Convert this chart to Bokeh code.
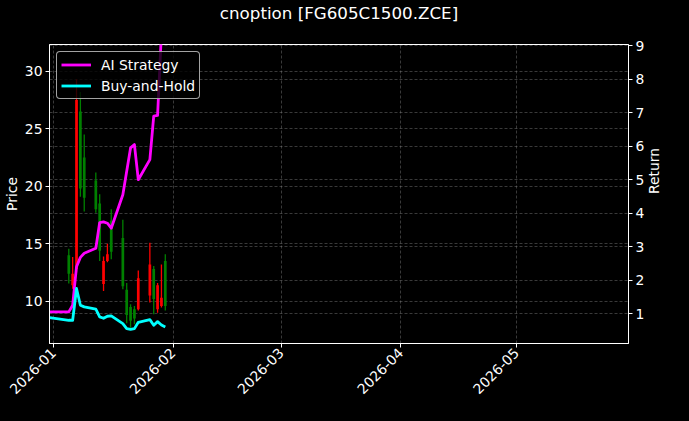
import math
import pandas as pd
from bokeh.plotting import figure
from bokeh.models import (Range1d, LinearAxis, FixedTicker, SingleIntervalTicker, Title,
                          DatetimeTickFormatter, Grid, Legend, LegendItem, ColumnDataSource)
from bokeh.embed import file_html
from bokeh.resources import INLINE

# ---------------- data ----------------
title_text = "cnoption [FG605C1500.ZCE]"

candle_dates = ["2026-01-05", "2026-01-06", "2026-01-07", "2026-01-08", "2026-01-09",
                "2026-01-12", "2026-01-13", "2026-01-14", "2026-01-15", "2026-01-16",
                "2026-01-19", "2026-01-20", "2026-01-21", "2026-01-22", "2026-01-23",
                "2026-01-26", "2026-01-27", "2026-01-28", "2026-01-29", "2026-01-30"]
opens = [14.0, 11.4, 12.8, 26.5, 22.5, 20.5, 18.5, 11.5, 13.5, 17.0,
         15.5, 11.0, 9.5, 9.3, 9.3, 10.5, 12.8, 9.3, 9.6, 13.5]
highs = [14.57, 13.85, 29.3, 28.2, 24.5, 21.2, 19.3, 13.9, 15.0, 18.0,
         17.1, 11.6, 9.74, 9.6, 12.67, 15.1, 13.07, 11.6, 13.2, 14.1]
lows = [11.54, 11.1, 12.5, 19.1, 17.8, 17.7, 13.5, 10.9, 13.4, 13.65,
        11.05, 8.1, 7.7, 8.0, 9.2, 9.9, 8.87, 9.0, 9.45, 9.2]
closes = [12.4, 12.4, 27.5, 19.8, 19.0, 18.0, 14.4, 13.5, 14.1, 14.3,
          11.3, 8.8, 8.3, 8.5, 12.0, 13.2, 10.2, 11.4, 10.3, 9.6]

line_dates = ["2025-12-31"] + candle_dates
ai_strategy = [1.05, 1.05, 1.25, 2.40, 2.68, 2.80, 2.95, 3.72, 3.74, 3.70, 3.55,
               4.55, 5.25, 5.95, 6.05, 5.00, 5.60, 6.90, 6.92, 9.40, 10.20]
buy_hold = [0.88, 0.80, 0.80, 1.75, 1.25, 1.20, 1.13, 0.90, 0.86, 0.92, 0.93,
            0.70, 0.55, 0.53, 0.55, 0.74, 0.82, 0.65, 0.76, 0.66, 0.60]

month_ticks = ["2026-01-01", "2026-02-01", "2026-03-01", "2026-04-01", "2026-05-01"]
x_start, x_end = "2025-12-31", "2026-05-30"
price_range = (6.33, 32.33)
return_range = (0.106, 9.04)

# ---------------- figure ----------------
FONT = "DejaVu Sans"
DAY_MS = 86400000

p = figure(width=673, height=405, x_axis_type="datetime", title=None,
           output_backend="svg", toolbar_location=None,
           x_range=Range1d(pd.Timestamp(x_start), pd.Timestamp(x_end)),
           y_range=Range1d(*price_range),
           min_border_left=49, min_border_right=39, min_border_top=44, min_border_bottom=62,
           background_fill_color="black", border_fill_color="black")
p.outline_line_color = "white"
p.outline_line_width = 1

# spacer between frame and title, then the title itself (farther from the frame)
p.add_layout(Title(text=" ", text_font_size="12px", text_font=FONT, standoff=6), "above")
p.add_layout(Title(text=title_text, align="center", text_color="white", text_font=FONT,
                   text_font_size="16.7px", text_font_style="normal", standoff=0), "above")

p.extra_y_ranges = {"ret": Range1d(*return_range)}

# candles
cd = pd.to_datetime(candle_dates)
colors = ["#ff0000" if c >= o else "#008000" for o, c in zip(opens, closes)]
src = ColumnDataSource(dict(
    x=cd, o=opens, h=highs, l=lows, c=closes,
    top=[max(o, c) for o, c in zip(opens, closes)],
    bottom=[min(o, c) for o, c in zip(opens, closes)],
    color=colors))
p.segment(x0="x", y0="l", x1="x", y1="h", line_color="color", line_width=1.3, source=src)
p.vbar(x="x", width=0.7 * DAY_MS, top="top", bottom="bottom",
       fill_color="color", line_color=None, source=src)

# return lines
ld = pd.to_datetime(line_dates)
r_ai = p.line(ld, ai_strategy, line_color="#ff00ff", line_width=2.8,
              line_join="round", y_range_name="ret")
r_bh = p.line(ld, buy_hold, line_color="#00ffff", line_width=2.8,
              line_join="round", y_range_name="ret")

# axes
laxis = p.yaxis[0]
laxis.ticker = SingleIntervalTicker(interval=5)
laxis.axis_label = "Price"
raxis = LinearAxis(y_range_name="ret", ticker=SingleIntervalTicker(interval=1),
                   axis_label="Return")
p.add_layout(raxis, "right")
xaxis = p.xaxis[0]
month_ms = [pd.Timestamp(t).value // 10**6 for t in month_ticks]
xaxis.ticker = FixedTicker(ticks=month_ms)
fmt = "%Y-%m"
xaxis.formatter = DatetimeTickFormatter(
    microseconds=fmt, milliseconds=fmt, seconds=fmt, minsec=fmt, minutes=fmt,
    hourmin=fmt, hours=fmt, days=fmt, months=fmt, years=fmt)
xaxis.major_label_orientation = math.pi / 4

for ax in (xaxis, laxis, raxis):
    ax.axis_line_color = "white"
    ax.major_tick_line_color = "white"
    ax.minor_tick_line_color = None
    ax.major_tick_out = 4
    ax.major_tick_in = 0
    ax.major_label_standoff = 3
    ax.major_label_text_color = "white"
    ax.major_label_text_font = FONT
    ax.major_label_text_font_size = "13.9px"
    ax.axis_label_text_color = "white"
    ax.axis_label_text_font = FONT
    ax.axis_label_text_font_size = "13.9px"
    ax.axis_label_text_font_style = "normal"
laxis.axis_label_standoff = 2
raxis.axis_label_standoff = 7
try:
    raxis.axis_label_orientation = math.pi / 2
except Exception:
    pass

# grids
p.xgrid.ticker = FixedTicker(ticks=month_ms)
rgrid = Grid(dimension=1, ticker=raxis.ticker, y_range_name="ret")
p.add_layout(rgrid, "center")
for g in (p.xgrid[0], p.ygrid[0], rgrid):
    g.grid_line_color = "#888888"
    g.grid_line_alpha = 0.6
    g.grid_line_width = 0.7
    g.grid_line_dash = "3 2"

# legend
legend = Legend(items=[LegendItem(label="AI Strategy", renderers=[r_ai]),
                       LegendItem(label="Buy-and-Hold", renderers=[r_bh])],
                location="top_left", margin=7, padding=4, spacing=4,
                glyph_width=30, glyph_height=17, label_height=17, label_standoff=10,
                background_fill_color="black", background_fill_alpha=0.8,
                border_line_color="#cccccc", border_line_alpha=0.8, border_line_width=1,
                label_text_color="white", label_text_font=FONT,
                label_text_font_size="13.9px")
try:
    legend.border_radius = 4
except Exception:
    pass
p.add_layout(legend, "center")

html = file_html(p, INLINE, title=title_text)
html = html.replace("<head>", "<head><style>html,body{background:#000000;}</style>", 1)
open("out.html", "w").write(html)
